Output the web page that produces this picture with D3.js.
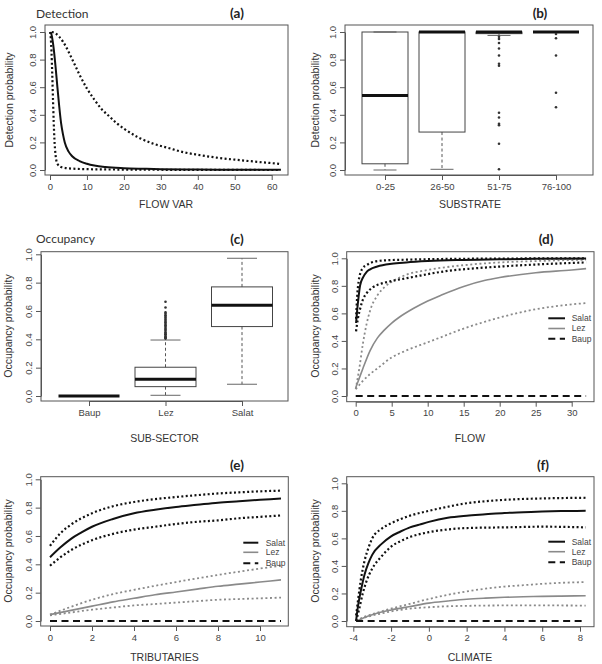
<!DOCTYPE html>
<html><head><meta charset="utf-8">
<script src="https://cdn.jsdelivr.net/npm/d3@7"></script>
<style>
body{margin:0;background:#fff}
svg{display:block}
</style></head><body>
<svg id="c" width="602" height="664"></svg>
<script>
// ---------------- DATA ----------------
const yTicks = [0, 0.2, 0.4, 0.6, 0.8, 1.0];

// (a) Detection vs FLOW VAR
const flowVarTicks = [0, 10, 20, 30, 40, 50, 60];
const flowVarMean = [[0.2,1.0],[0.5,0.97],[1,0.88],[1.5,0.75],[2,0.6],[2.5,0.46],[3,0.34],[3.5,0.26],[4,0.2],[5,0.135],[6,0.1],[8,0.065],[10,0.045],[12,0.032],[15,0.021],[20,0.013],[25,0.009],[30,0.006],[40,0.003],[50,0.002],[62.5,0.001]];
const flowVarLow = [[0,1.0],[0.2,0.96],[0.4,0.86],[0.6,0.7],[0.8,0.52],[1.0,0.35],[1.2,0.22],[1.5,0.11],[2,0.045],[3,0.022],[5,0.012],[10,0.006],[20,0.003],[40,0.001],[62,0.0]];
const flowVarHigh = [[0.5,1.0],[1.5,0.99],[2.5,0.965],[3.5,0.93],[4.5,0.885],[5.5,0.83],[6.5,0.775],[8,0.69],[10,0.59],[12,0.51],[14,0.44],[16,0.39],[18,0.34],[20,0.3],[24,0.235],[28,0.19],[32,0.16],[36,0.13],[40,0.11],[45,0.09],[50,0.075],[55,0.062],[62,0.045]];

// (b) Detection vs SUBSTRATE (boxplots)
const substrateCats = ["0-25", "26-50", "51-75", "76-100"];
const substrateLo  = [0.0, 0.005, 0.975, 1.0];
const substrateQ1  = [0.045, 0.275, 0.988, 1.0];
const substrateMed = [0.54, 1.0, 1.0, 1.0];
const substrateQ3  = [1.0, 1.0, 1.0, 1.0];
const substrateHi  = [1.0, 1.0, 1.0, 1.0];
const substrateOut = [[], [], [0.965,0.95,0.92,0.88,0.83,0.77,0.755,0.415,0.38,0.335,0.325,0.19,0.005], [0.985,0.955,0.83,0.56,0.455]];

// (c) Occupancy vs SUB-SECTOR (boxplots)
const sectorCats = ["Baup", "Lez", "Salat"];
const sectorLo  = [0.0, 0.005, 0.083];
const sectorQ1  = [0.0, 0.066, 0.49];
const sectorMed = [0.0, 0.118, 0.64];
const sectorQ3  = [0.0, 0.203, 0.77];
const sectorHi  = [0.0, 0.395, 0.972];
const sectorOut = [[], [0.405,0.41,0.415,0.42,0.43,0.435,0.44,0.45,0.46,0.47,0.48,0.49,0.5,0.51,0.52,0.53,0.54,0.55,0.56,0.57,0.58,0.59,0.625,0.665], []];

// (d) Occupancy vs FLOW
const flowTicks = [0, 5, 10, 15, 20, 25, 30];
const flowSalat = [[0.05,0.53],[0.2,0.62],[0.4,0.72],[0.6,0.8],[1,0.86],[1.5,0.9],[2,0.92],[3,0.94],[5,0.96],[7,0.97],[10,0.98],[14,0.988],[20,0.993],[25,0.996],[32,0.998]];
const flowSalatHigh = [[0.05,0.56],[0.2,0.72],[0.4,0.83],[0.7,0.9],[1,0.93],[1.5,0.95],[2.5,0.975],[4,0.985],[7,0.99],[12,0.995],[20,0.998],[32,1.0]];
const flowSalatLow = [[0.05,0.47],[0.3,0.56],[0.6,0.63],[1,0.7],[1.5,0.745],[2.4,0.79],[3.5,0.815],[5,0.835],[7,0.855],[8.5,0.87],[10,0.885],[13,0.91],[16,0.925],[20,0.94],[25,0.955],[32,0.97]];
const flowLez = [[0,0.06],[0.5,0.13],[1,0.2],[2,0.33],[3,0.42],[4,0.48],[5,0.53],[6,0.57],[8,0.635],[10,0.69],[12,0.735],[15,0.795],[18,0.84],[20,0.86],[25,0.895],[30,0.915],[32,0.925]];
const flowLezHigh = [[0,0.05],[0.5,0.2],[1,0.38],[1.5,0.52],[2,0.62],[3,0.73],[4,0.79],[5,0.83],[7,0.88],[10,0.915],[15,0.95],[20,0.97],[25,0.98],[32,0.99]];
const flowLezLow = [[0,0.05],[0.5,0.08],[1,0.11],[2,0.16],[3,0.2],[5,0.28],[7,0.33],[10,0.39],[12,0.43],[15,0.49],[18,0.54],[20,0.57],[25,0.63],[30,0.665],[32,0.675]];
const flowBaup = [[0,0],[32,0]];

// (e) Occupancy vs TRIBUTARIES
const tribTicks = [0, 2, 4, 6, 8, 10];
const tribSalat = [[0,0.45],[0.5,0.52],[1,0.58],[1.5,0.625],[2,0.665],[3,0.72],[4,0.76],[5,0.785],[6,0.805],[7,0.82],[8,0.835],[9,0.845],[10,0.855],[11,0.865]];
const tribSalatHigh = [[0,0.53],[0.5,0.62],[1,0.68],[2,0.76],[3,0.81],[4,0.84],[5,0.86],[6,0.875],[7,0.888],[8,0.9],[9,0.908],[10,0.915],[11,0.92]];
const tribSalatLow = [[0,0.39],[0.5,0.45],[1,0.5],[2,0.57],[3,0.615],[4,0.645],[5,0.665],[6,0.685],[7,0.7],[8,0.71],[9,0.725],[10,0.735],[11,0.745]];
const tribLez = [[0,0.045],[1,0.075],[2,0.105],[3,0.135],[4,0.16],[5,0.185],[6,0.205],[7,0.225],[8,0.245],[9,0.26],[10,0.275],[11,0.29]];
const tribLezHigh = [[0,0.045],[1,0.1],[2,0.15],[3,0.19],[4,0.22],[6,0.275],[8,0.325],[10,0.37],[11,0.39]];
const tribLezLow = [[0,0.04],[1,0.06],[2,0.08],[3,0.095],[4,0.11],[5,0.12],[6,0.13],[7,0.14],[8,0.15],[9,0.155],[10,0.16],[11,0.165]];
const tribBaup = [[0,0],[11,0]];

// (f) Occupancy vs CLIMATE
const climTicks = [-4, -2, 0, 2, 4, 6, 8];
const climSalat = [[-3.85,0.0],[-3.8,0.06],[-3.7,0.15],[-3.6,0.22],[-3.4,0.34],[-3.2,0.42],[-3,0.48],[-2.5,0.56],[-2,0.615],[-1.5,0.65],[-1,0.68],[-0.5,0.7],[0,0.72],[1,0.75],[2,0.765],[3,0.775],[4,0.785],[5,0.79],[6,0.795],[7,0.798],[8.3,0.8]];
const climSalatHigh = [[-3.85,0.04],[-3.75,0.15],[-3.6,0.3],[-3.4,0.44],[-3.2,0.53],[-3,0.6],[-2.5,0.67],[-2,0.71],[-1.5,0.74],[-1,0.765],[0,0.8],[1,0.83],[2,0.855],[3,0.87],[4,0.88],[6,0.89],[8.3,0.895]];
const climSalatLow = [[-3.85,0.0],[-3.7,0.08],[-3.5,0.2],[-3.3,0.29],[-3,0.38],[-2.5,0.47],[-2,0.54],[-1.5,0.58],[-1,0.61],[0,0.645],[1,0.665],[2,0.675],[4,0.68],[6,0.685],[8.3,0.68]];
const climLez = [[-3.85,0.0],[-3.5,0.02],[-3,0.045],[-2.5,0.065],[-2,0.08],[-1,0.105],[0,0.13],[1,0.145],[2,0.158],[3,0.166],[4,0.172],[5,0.176],[6,0.179],[7,0.181],[8.3,0.183]];
const climLezHigh = [[-3.85,0.0],[-3.5,0.025],[-3,0.05],[-2.5,0.07],[-2,0.09],[-1,0.125],[0,0.16],[1,0.19],[2,0.215],[3,0.235],[4,0.25],[5,0.26],[6,0.27],[7,0.277],[8.3,0.283]];
const climLezLow = [[-3.85,0.0],[-3.5,0.02],[-3,0.04],[-2.5,0.055],[-2,0.07],[-1,0.09],[0,0.1],[1,0.107],[2,0.11],[4,0.113],[6,0.113],[8.3,0.112]];
const climBaup = [[-3.85,0],[8.3,0]];

const legendLabels = ["Salat", "Lez", "Baup"];

// ---------------- DRAWING ----------------
const svg = d3.select("#c");
const FONT = "'Liberation Sans', Arial, sans-serif";
const TFONT = "Lato, 'Open Sans', sans-serif";

const S = {
  blackSolid: {c:"#111", w:2},
  blackDot:   {c:"#111", w:2.2, dash:"2,2.4"},
  graySolid:  {c:"#8a8a8a", w:1.6},
  grayDot:    {c:"#8a8a8a", w:1.8, dash:"2,2.6"},
  baup:       {c:"#111", w:2, dash:"7,4.5"}
};

function styleAxis(a) {
  a.attr("font-family", FONT).attr("font-size", 9.5);
  a.selectAll("line,path").attr("stroke", "#555");
  a.selectAll("text").attr("fill", "#444");
}

function panel(cfg) {
  const g = svg.append("g");
  const [x0, y0, x1, y1] = cfg.box;
  g.append("rect").attr("x", x0).attr("y", y0).attr("width", x1 - x0).attr("height", y1 - y0)
    .attr("fill", "none").attr("stroke", "#555").attr("stroke-width", 1);
  const ya = g.append("g").attr("transform", `translate(${x0},0)`)
    .call(d3.axisLeft(cfg.y).tickValues(yTicks).tickFormat(d3.format(".1f")).tickSize(5).tickSizeOuter(0));
  ya.selectAll("text").attr("transform", "rotate(-90)").attr("x", 0).attr("y", -12).attr("dy", "0.35em").attr("text-anchor", "middle");
  styleAxis(ya);
  const xa = g.append("g").attr("transform", `translate(0,${y1})`)
    .call(d3.axisBottom(cfg.x).tickValues(cfg.xTicks).tickFormat(cfg.xFmt).tickSize(5).tickSizeOuter(0).tickPadding(3));
  styleAxis(xa);
  // titles
  g.append("text").attr("x", cfg.xt[0]).attr("y", cfg.xt[1]).attr("text-anchor", "middle")
    .attr("font-family", FONT).attr("font-size", 10.5).attr("fill", "#333").text(cfg.xTitle);
  g.append("text").attr("transform", `translate(${cfg.yt[0]},${cfg.yt[1]}) rotate(-90)`).attr("text-anchor", "middle")
    .attr("font-family", FONT).attr("font-size", 10.5).attr("fill", "#333").text(cfg.yTitle);
  g.append("text").attr("x", cfg.lab[0]).attr("y", cfg.lab[1]).attr("text-anchor", "middle")
    .attr("font-family", TFONT).attr("font-weight", "bold").attr("font-size", 13.5).attr("fill", "#222").text(cfg.label);
  if (cfg.head) {
    g.append("text").attr("x", cfg.head[0]).attr("y", cfg.head[1])
      .attr("font-family", TFONT).attr("font-size", 12).attr("fill", "#333").text(cfg.head[2]);
  }
  return g;
}

function drawLine(g, x, y, data, st) {
  g.append("path").datum(data)
    .attr("d", d3.line().x(d => x(d[0])).y(d => y(d[1])).curve(d3.curveMonotoneX))
    .attr("fill", "none").attr("stroke", st.c).attr("stroke-width", st.w)
    .attr("stroke-dasharray", st.dash || null);
}

function boxplots(g, x, y, lo, q1, med, q3, hi, out, bw, cw) {
  lo.forEach((_, i) => {
    const cx = x(i + 1);
    if (hi[i] > q3[i]) g.append("line").attr("x1", cx).attr("x2", cx).attr("y1", y(q3[i])).attr("y2", y(hi[i])).attr("stroke", "#555").attr("stroke-dasharray", "3,2.5");
    if (lo[i] < q1[i]) g.append("line").attr("x1", cx).attr("x2", cx).attr("y1", y(q1[i])).attr("y2", y(lo[i])).attr("stroke", "#555").attr("stroke-dasharray", "3,2.5");
    [lo[i], hi[i]].forEach(v => g.append("line").attr("x1", cx - cw / 2).attr("x2", cx + cw / 2).attr("y1", y(v)).attr("y2", y(v)).attr("stroke", "#666"));
    g.append("rect").attr("x", cx - bw / 2).attr("width", bw).attr("y", y(q3[i])).attr("height", Math.max(0, y(q1[i]) - y(q3[i])))
      .attr("fill", "none").attr("stroke", "#444").attr("stroke-width", 1);
    g.append("line").attr("x1", cx - bw / 2).attr("x2", cx + bw / 2).attr("y1", y(med[i])).attr("y2", y(med[i])).attr("stroke", "#111").attr("stroke-width", 3);
    out[i].forEach(v => g.append("circle").attr("cx", cx).attr("cy", y(v)).attr("r", 1.3).attr("fill", "#333"));
  });
}

function legend(g, xa, xb, tx, ys) {
  const st = [S.blackSolid, S.graySolid, S.baup];
  legendLabels.forEach((t, i) => {
    g.append("line").attr("x1", xa).attr("x2", xb).attr("y1", ys[i]).attr("y2", ys[i])
      .attr("stroke", st[i].c).attr("stroke-width", st[i].w).attr("stroke-dasharray", st[i].dash || null);
    g.append("text").attr("x", tx).attr("y", ys[i]).attr("dy", "0.35em").attr("font-family", FONT)
      .attr("font-size", 8.5).attr("fill", "#444").text(t);
  });
}

const num = d => String(d);

// (a)
{
  const x = d3.scaleLinear().domain([0, 60]).range([50, 271.7]);
  const y = d3.scaleLinear().domain([0, 1]).range([170, 32]);
  const g = panel({box:[45,25,288,175], x, y, xTicks:flowVarTicks, xFmt:num, xTitle:"FLOW VAR", yTitle:"Detection probability",
    xt:[166,208], yt:[12.5,100], label:"(a)", lab:[237,18], head:[36,18,"Detection"]});
  drawLine(g, x, y, flowVarLow, S.blackDot);
  drawLine(g, x, y, flowVarHigh, S.blackDot);
  drawLine(g, x, y, flowVarMean, S.blackSolid);
}
// (b)
{
  const x = d3.scaleLinear().domain([1, 4]).range([385, 556]);
  const y = d3.scaleLinear().domain([0, 1]).range([170, 32]);
  const g = panel({box:[345,25,593,175], x, y, xTicks:[1,2,3,4], xFmt:i => substrateCats[i-1], xTitle:"SUBSTRATE", yTitle:"Detection probability",
    xt:[470,208], yt:[318.5,100], label:"(b)", lab:[540,18]});
  boxplots(g, x, y, substrateLo, substrateQ1, substrateMed, substrateQ3, substrateHi, substrateOut, 46, 23);
}
// (c)
{
  const x = d3.scaleLinear().domain([1, 3]).range([89, 242]);
  const y = d3.scaleLinear().domain([0, 1]).range([396, 254.3]);
  const g = panel({box:[41,251.7,288,401], x, y, xTicks:[1,2,3], xFmt:i => sectorCats[i-1], xTitle:"SUB-SECTOR", yTitle:"Occupancy probability",
    xt:[164.5,441.5], yt:[12,326], label:"(c)", lab:[237,244], head:[36,243,"Occupancy"]});
  boxplots(g, x, y, sectorLo, sectorQ1, sectorMed, sectorQ3, sectorHi, sectorOut, 61, 30);
}
// (d)
{
  const x = d3.scaleLinear().domain([0, 30]).range([355.7, 571.7]);
  const y = d3.scaleLinear().domain([0, 1]).range([396, 258.3]);
  const g = panel({box:[346.7,251.7,594,401.7], x, y, xTicks:flowTicks, xFmt:num, xTitle:"FLOW", yTitle:"Occupancy probability",
    xt:[470,441.5], yt:[318.5,326], label:"(d)", lab:[546,244]});
  drawLine(g, x, y, flowLezLow, S.grayDot);
  drawLine(g, x, y, flowLezHigh, S.grayDot);
  drawLine(g, x, y, flowLez, S.graySolid);
  drawLine(g, x, y, flowSalatLow, S.blackDot);
  drawLine(g, x, y, flowSalatHigh, S.blackDot);
  drawLine(g, x, y, flowSalat, S.blackSolid);
  drawLine(g, x, y, flowBaup, S.baup);
  legend(g, 548.3, 565, 571.7, [318.3, 328.5, 338.7]);
}
// (e)
{
  const x = d3.scaleLinear().domain([0, 10]).range([50, 260]);
  const y = d3.scaleLinear().domain([0, 1]).range([621, 479.3]);
  const g = panel({box:[40.7,476.7,288.3,626], x, y, xTicks:tribTicks, xFmt:num, xTitle:"TRIBUTARIES", yTitle:"Occupancy probability",
    xt:[164.5,660.5], yt:[12,551], label:"(e)", lab:[237,469.5]});
  drawLine(g, x, y, tribLezLow, S.grayDot);
  drawLine(g, x, y, tribLezHigh, S.grayDot);
  drawLine(g, x, y, tribLez, S.graySolid);
  drawLine(g, x, y, tribSalatLow, S.blackDot);
  drawLine(g, x, y, tribSalatHigh, S.blackDot);
  drawLine(g, x, y, tribSalat, S.blackSolid);
  drawLine(g, x, y, tribBaup, S.baup);
  legend(g, 243.3, 258.3, 265.7, [542.7, 552.3, 563.3]);
}
// (f)
{
  const x = d3.scaleLinear().domain([-4, 8]).range([353.3, 580]);
  const y = d3.scaleLinear().domain([0, 1]).range([621, 483.3]);
  const g = panel({box:[346.7,476.7,594,626.7], x, y, xTicks:climTicks, xFmt:num, xTitle:"CLIMATE", yTitle:"Occupancy probability",
    xt:[470,660.5], yt:[318.5,551], label:"(f)", lab:[543,469.5]});
  drawLine(g, x, y, climLezLow, S.grayDot);
  drawLine(g, x, y, climLezHigh, S.grayDot);
  drawLine(g, x, y, climLez, S.graySolid);
  drawLine(g, x, y, climSalatLow, S.blackDot);
  drawLine(g, x, y, climSalatHigh, S.blackDot);
  drawLine(g, x, y, climSalat, S.blackSolid);
  drawLine(g, x, y, climBaup, S.baup);
  legend(g, 548.3, 565, 571.7, [541.7, 551.7, 562.3]);
}
</script>
</body></html>
